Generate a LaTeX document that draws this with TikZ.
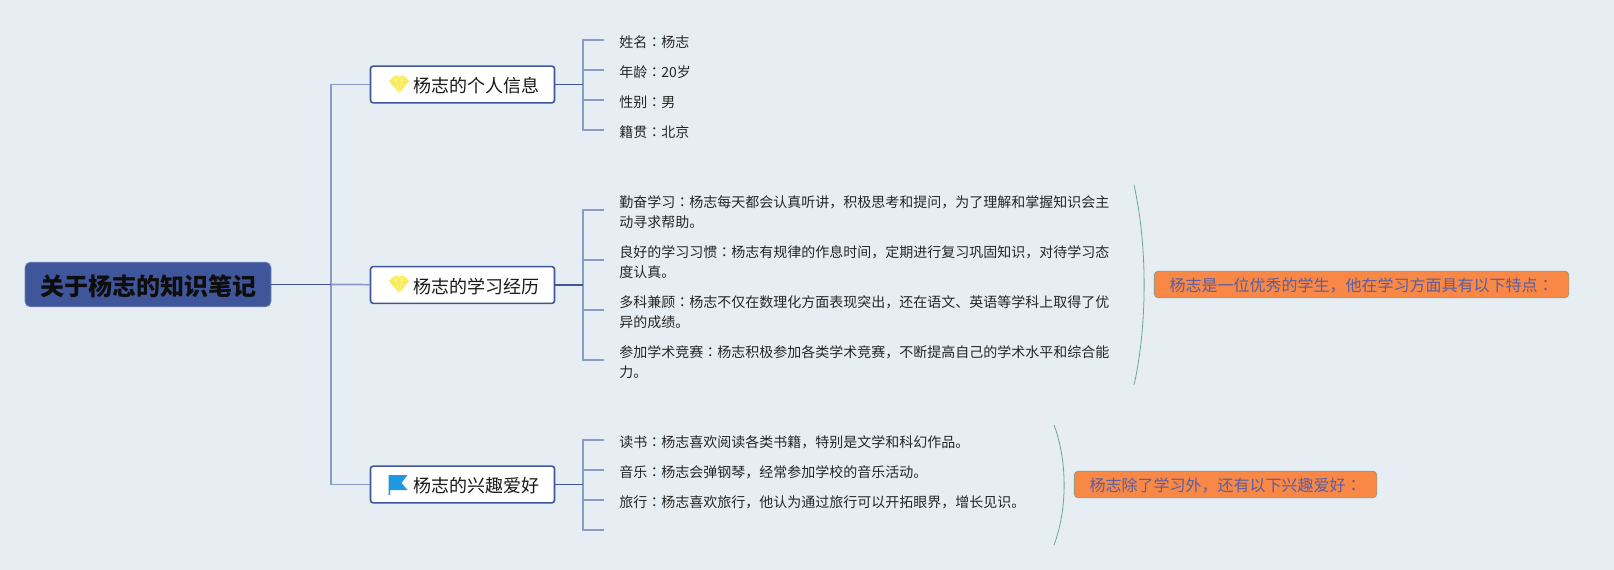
\documentclass[tikz,border=0pt]{standalone}
\usepackage{fontspec}
\setmainfont{Noto Sans CJK SC}
\newfontfamily\colonfont{Noto Sans CJK TC}
\def\cln{{\colonfont ：}}
\definecolor{paper}{HTML}{E6EEF3}
\definecolor{linedark}{HTML}{40569A}
\definecolor{linelight}{HTML}{8B9BC7}
\definecolor{curvegreen}{HTML}{6FA594}
\definecolor{noteorange}{HTML}{F98746}
\definecolor{notetext}{HTML}{5A5FA0}
\definecolor{gemyellow}{HTML}{F8EB57}
\definecolor{flagblue}{HTML}{1F98DF}
\tikzset{
	rootbox/.style={draw=linelight!70!linedark, fill=linedark, rounded corners=4, line width=0.6pt, minimum width=184.5, minimum height=33.5, font=\fontsize{18}{22}\selectfont\bfseries, text=black!95, text height=18.7pt, text depth=2.2pt, inner sep=0},
	topicbox/.style={draw=linedark, fill=white, rounded corners=2, line width=1.2pt, minimum width=138, minimum height=27.5, font=\fontsize{13.5}{16}\selectfont, text=black!90, text height=14pt, text depth=1.6pt, inner sep=0},
	leafbox/.style={anchor=west, align=left, inner ysep=0, inner xsep=11.25, font=\fontsize{10.5}{15}\selectfont, text=black!85},
	notebox/.style={draw=curvegreen, fill=noteorange, rounded corners=3, line width=0.5pt, minimum height=20, font=\fontsize{12}{14}\selectfont, text=notetext, text height=12.5pt, text depth=1.4pt, inner sep=0},
	thick link/.style={draw=linedark, line width=1.3pt},
	thin link/.style={draw=linelight, line width=1.3pt},
	curve link/.style={draw=curvegreen, line width=0.6pt}
}
\def\gemicon(#1,#2){
	\fill[gemyellow] (#1-10, #2-4) -- (#1-5, #2-9) -- (#1+5, #2-9) -- (#1+10, #2-4) -- (#1, #2+8) -- cycle;
	\draw[white!60!gemyellow, line width=0.35pt] (#1-10, #2-4) -- (#1+10, #2-4) (#1-5, #2-9) -- (#1-3, #2-4) -- (#1, #2+8) -- (#1+3, #2-4) -- (#1+5, #2-9) (#1-3, #2-4) -- (#1, #2-9) -- (#1+3, #2-4);
}
\def\flagicon(#1,#2){
	\fill[flagblue] (#1-10, #2-10) -- (#1+9, #2-10) -- (#1+3, #2-2) -- (#1+9, #2+5) -- (#1-8.5, #2+5) -- (#1-8.5, #2+10) -- (#1-10, #2+10) -- cycle;
}

\begin{document}
\begin{tikzpicture}[x=0.75pt, y=-0.75pt]
	\useasboundingbox[fill=paper] (0, 0) rectangle (1614, 570);

	% root and topics
	\node[rootbox] (root) at (148, 284.5) {关于杨志的知识笔记};
	\node[topicbox] (info) at (462.5, 84.5) {\hspace{1.5em}杨志的个人信息};
	\node[topicbox] (study) at (462.5, 285) {\hspace{1.5em}杨志的学习经历};
	\node[topicbox] (hobby) at (462.5, 484.5) {\hspace{1.5em}杨志的兴趣爱好};

	\coordinate (trunk) at (331, 284.5);
	\draw[thin link] (trunk) |- (info);
	\draw[thin link] (trunk) -- (study);
	\draw[thin link] (trunk) |- (hobby);
	\draw[thick link] (root) -- (trunk);

	\gemicon(399, 85)
	\gemicon(399, 285)
	\flagicon(398.5, 485)

	% personal information
	\node[leafbox] (name) at (604, 42) {姓名\cln 杨志};
	\node[leafbox] (age) at (604, 72) {年龄\cln 20岁};
	\node[leafbox] (sex) at (604, 102) {性别\cln 男};
	\node[leafbox] (home) at (604, 132) {籍贯\cln 北京};

	\coordinate (infofork) at (583, 84.5);
	\draw[thin link] (infofork) |- ([yshift=1.5pt]name.west);
	\draw[thin link] (infofork) |- ([yshift=1.5pt]age.west);
	\draw[thin link] (infofork) |- ([yshift=1.5pt]sex.west);
	\draw[thin link] (infofork) |- ([yshift=1.5pt]home.west);
	\draw[thick link] (info) -- (infofork);

	% study history
	\node[leafbox] (diligent) at (604, 212) {勤奋学习\cln 杨志每天都会认真听讲，积极思考和提问，为了理解和掌握知识会主\\动寻求帮助。};
	\node[leafbox] (habit) at (604, 262) {良好的学习习惯\cln 杨志有规律的作息时间，定期进行复习巩固知识，对待学习态\\度认真。};
	\node[leafbox] (subjects) at (604, 312) {多科兼顾\cln 杨志不仅在数理化方面表现突出，还在语文、英语等学科上取得了优\\异的成绩。};
	\node[leafbox] (contest) at (604, 362) {参加学术竞赛\cln 杨志积极参加各类学术竞赛，不断提高自己的学术水平和综合能\\力。};

	\coordinate (studyfork) at (583, 285);
	\draw[thin link] (studyfork) |- ([yshift=1.5pt]diligent.west);
	\draw[thin link] (studyfork) |- ([yshift=1.5pt]habit.west);
	\draw[thin link] (studyfork) |- ([yshift=1.5pt]subjects.west);
	\draw[thin link] (studyfork) |- ([yshift=1.5pt]contest.west);
	\draw[thick link] (study) -- (studyfork);

	% hobbies
	\node[leafbox] (reading) at (604, 442) {读书\cln 杨志喜欢阅读各类书籍，特别是文学和科幻作品。};
	\node[leafbox] (music) at (604, 472) {音乐\cln 杨志会弹钢琴，经常参加学校的音乐活动。};
	\node[leafbox] (travel) at (604, 502) {旅行\cln 杨志喜欢旅行，他认为通过旅行可以开拓眼界，增长见识。};
	\coordinate (blank) at (604, 530);

	\coordinate (hobbyfork) at (583, 484.5);
	\draw[thin link] (hobbyfork) |- ([yshift=1.5pt]reading.west);
	\draw[thin link] (hobbyfork) |- ([yshift=1.5pt]music.west);
	\draw[thin link] (hobbyfork) |- ([yshift=1.5pt]travel.west);
	\draw[thin link] (hobbyfork) |- (blank);
	\draw[thick link] (hobby) -- (hobbyfork);

	% summaries
	\node[notebox, minimum width=311] (studynote) at (1361.5, 284.5) {杨志是一位优秀的学生，他在学习方面具有以下特点\cln};
	\node[notebox, minimum width=227] (hobbynote) at (1225.5, 484.5) {杨志除了学习外，还有以下兴趣爱好\cln};

	\coordinate (studytop) at (1134, 185);
	\coordinate (studybot) at (1134, 385);
	\draw[curve link] (studytop) .. controls +(13.5, 60) and +(13.5, -60) .. (studybot);

	\coordinate (hobbytop) at (1054, 425);
	\coordinate (hobbybot) at (1054, 545);
	\draw[curve link] (hobbytop) .. controls +(13.5, 36) and +(13.5, -36) .. (hobbybot);
\end{tikzpicture}
\end{document}
